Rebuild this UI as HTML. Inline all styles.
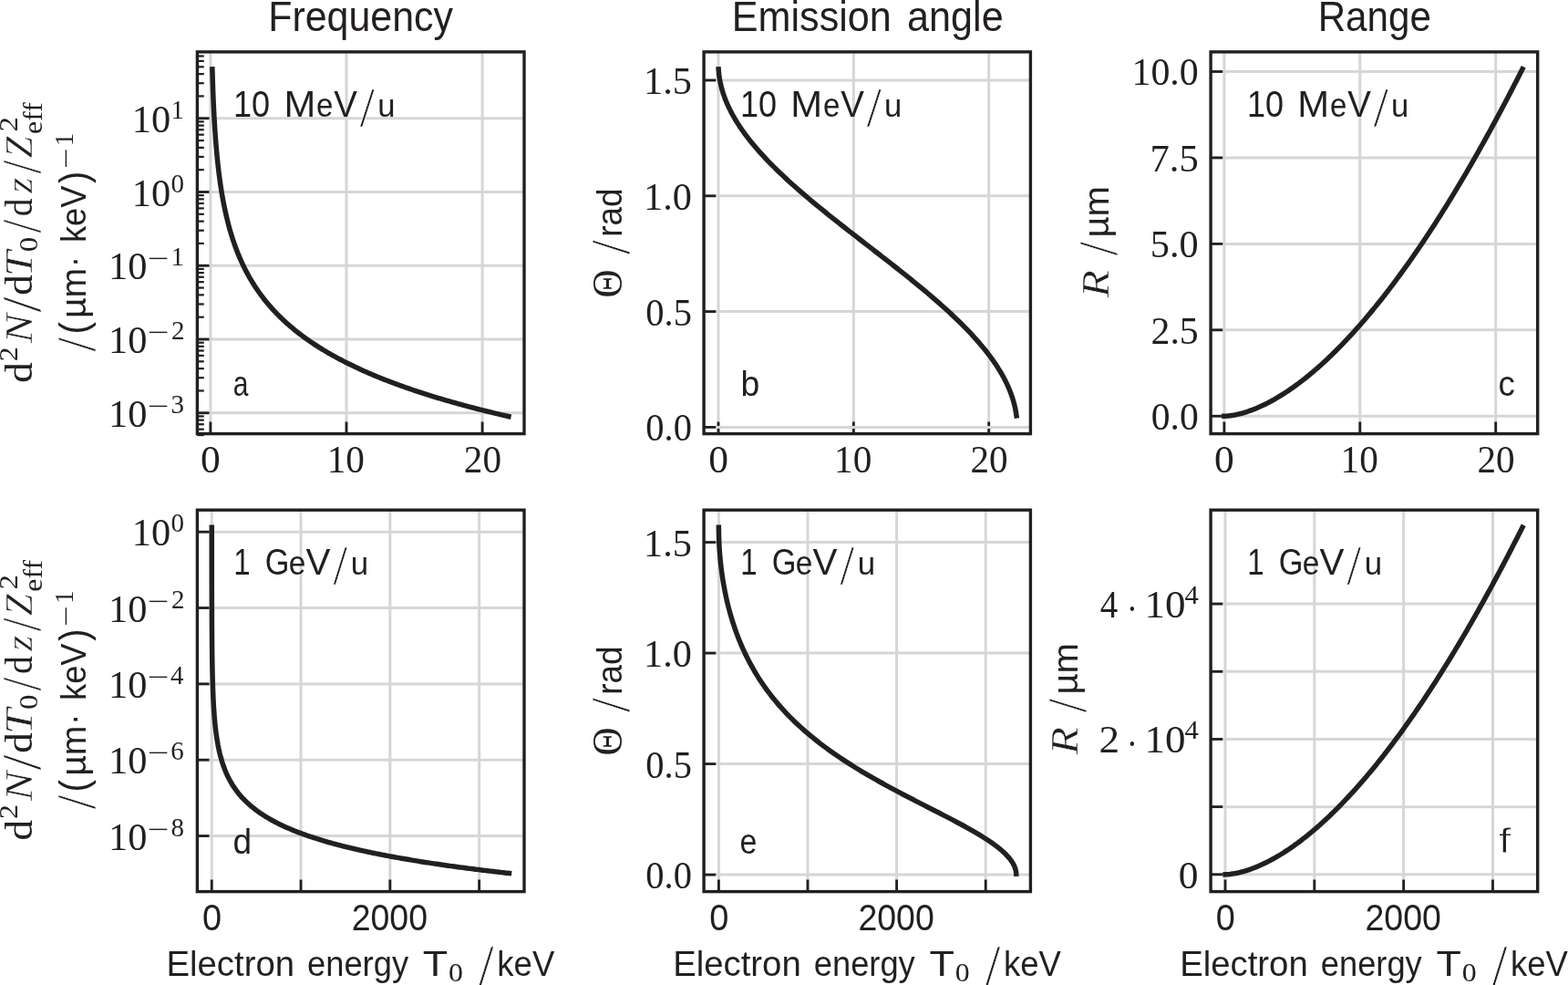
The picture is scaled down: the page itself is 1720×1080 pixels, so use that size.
<!DOCTYPE html>
<html lang="en">
<head>
<meta charset="utf-8">
<title>Delta electron frequency, emission angle and range</title>
<style>
html,body{margin:0;padding:0;background:#fff;}
body{width:1720px;height:1080px;overflow:hidden;}
svg{display:block;}
text.s{font-family:"Liberation Sans",sans-serif;}
text.r{font-family:"Liberation Serif",serif;}
</style>
</head>
<body>
<svg width="1720" height="1080" viewBox="0 0 1720 1080">
<rect width="1720" height="1080" fill="#ffffff"/>
<g stroke-linecap="butt">
<line x1="230.9" y1="56.9" x2="230.9" y2="475.6" stroke="#d5d6d8" stroke-width="3"/>
<line x1="380" y1="56.9" x2="380" y2="475.6" stroke="#d5d6d8" stroke-width="3"/>
<line x1="529.1" y1="56.9" x2="529.1" y2="475.6" stroke="#d5d6d8" stroke-width="3"/>
<line x1="230.9" y1="475.6" x2="230.9" y2="462.5" stroke="#231f20" stroke-width="2.8"/>
<line x1="380" y1="475.6" x2="380" y2="462.5" stroke="#231f20" stroke-width="2.8"/>
<line x1="529.1" y1="475.6" x2="529.1" y2="462.5" stroke="#231f20" stroke-width="2.8"/>
<line x1="216.4" y1="129.75" x2="575" y2="129.75" stroke="#d5d6d8" stroke-width="3"/>
<line x1="216.4" y1="210.5" x2="575" y2="210.5" stroke="#d5d6d8" stroke-width="3"/>
<line x1="216.4" y1="291.25" x2="575" y2="291.25" stroke="#d5d6d8" stroke-width="3"/>
<line x1="216.4" y1="372" x2="575" y2="372" stroke="#d5d6d8" stroke-width="3"/>
<line x1="216.4" y1="452.75" x2="575" y2="452.75" stroke="#d5d6d8" stroke-width="3"/>
<line x1="216.4" y1="129.75" x2="229.5" y2="129.75" stroke="#231f20" stroke-width="2.8"/>
<line x1="216.4" y1="210.5" x2="229.5" y2="210.5" stroke="#231f20" stroke-width="2.8"/>
<line x1="216.4" y1="291.25" x2="229.5" y2="291.25" stroke="#231f20" stroke-width="2.8"/>
<line x1="216.4" y1="372" x2="229.5" y2="372" stroke="#231f20" stroke-width="2.8"/>
<line x1="216.4" y1="452.75" x2="229.5" y2="452.75" stroke="#231f20" stroke-width="2.8"/>
<line x1="216.4" y1="477.06" x2="223.8" y2="477.06" stroke="#231f20" stroke-width="2.24"/>
<line x1="216.4" y1="470.66" x2="223.8" y2="470.66" stroke="#231f20" stroke-width="2.24"/>
<line x1="216.4" y1="465.26" x2="223.8" y2="465.26" stroke="#231f20" stroke-width="2.24"/>
<line x1="216.4" y1="460.58" x2="223.8" y2="460.58" stroke="#231f20" stroke-width="2.24"/>
<line x1="216.4" y1="456.44" x2="223.8" y2="456.44" stroke="#231f20" stroke-width="2.24"/>
<line x1="216.4" y1="428.44" x2="223.8" y2="428.44" stroke="#231f20" stroke-width="2.24"/>
<line x1="216.4" y1="414.22" x2="223.8" y2="414.22" stroke="#231f20" stroke-width="2.24"/>
<line x1="216.4" y1="404.13" x2="223.8" y2="404.13" stroke="#231f20" stroke-width="2.24"/>
<line x1="216.4" y1="396.31" x2="223.8" y2="396.31" stroke="#231f20" stroke-width="2.24"/>
<line x1="216.4" y1="389.91" x2="223.8" y2="389.91" stroke="#231f20" stroke-width="2.24"/>
<line x1="216.4" y1="384.51" x2="223.8" y2="384.51" stroke="#231f20" stroke-width="2.24"/>
<line x1="216.4" y1="379.83" x2="223.8" y2="379.83" stroke="#231f20" stroke-width="2.24"/>
<line x1="216.4" y1="375.69" x2="223.8" y2="375.69" stroke="#231f20" stroke-width="2.24"/>
<line x1="216.4" y1="347.69" x2="223.8" y2="347.69" stroke="#231f20" stroke-width="2.24"/>
<line x1="216.4" y1="333.47" x2="223.8" y2="333.47" stroke="#231f20" stroke-width="2.24"/>
<line x1="216.4" y1="323.38" x2="223.8" y2="323.38" stroke="#231f20" stroke-width="2.24"/>
<line x1="216.4" y1="315.56" x2="223.8" y2="315.56" stroke="#231f20" stroke-width="2.24"/>
<line x1="216.4" y1="309.16" x2="223.8" y2="309.16" stroke="#231f20" stroke-width="2.24"/>
<line x1="216.4" y1="303.76" x2="223.8" y2="303.76" stroke="#231f20" stroke-width="2.24"/>
<line x1="216.4" y1="299.08" x2="223.8" y2="299.08" stroke="#231f20" stroke-width="2.24"/>
<line x1="216.4" y1="294.94" x2="223.8" y2="294.94" stroke="#231f20" stroke-width="2.24"/>
<line x1="216.4" y1="266.94" x2="223.8" y2="266.94" stroke="#231f20" stroke-width="2.24"/>
<line x1="216.4" y1="252.72" x2="223.8" y2="252.72" stroke="#231f20" stroke-width="2.24"/>
<line x1="216.4" y1="242.63" x2="223.8" y2="242.63" stroke="#231f20" stroke-width="2.24"/>
<line x1="216.4" y1="234.81" x2="223.8" y2="234.81" stroke="#231f20" stroke-width="2.24"/>
<line x1="216.4" y1="228.41" x2="223.8" y2="228.41" stroke="#231f20" stroke-width="2.24"/>
<line x1="216.4" y1="223.01" x2="223.8" y2="223.01" stroke="#231f20" stroke-width="2.24"/>
<line x1="216.4" y1="218.33" x2="223.8" y2="218.33" stroke="#231f20" stroke-width="2.24"/>
<line x1="216.4" y1="214.19" x2="223.8" y2="214.19" stroke="#231f20" stroke-width="2.24"/>
<line x1="216.4" y1="186.19" x2="223.8" y2="186.19" stroke="#231f20" stroke-width="2.24"/>
<line x1="216.4" y1="171.97" x2="223.8" y2="171.97" stroke="#231f20" stroke-width="2.24"/>
<line x1="216.4" y1="161.88" x2="223.8" y2="161.88" stroke="#231f20" stroke-width="2.24"/>
<line x1="216.4" y1="154.06" x2="223.8" y2="154.06" stroke="#231f20" stroke-width="2.24"/>
<line x1="216.4" y1="147.66" x2="223.8" y2="147.66" stroke="#231f20" stroke-width="2.24"/>
<line x1="216.4" y1="142.26" x2="223.8" y2="142.26" stroke="#231f20" stroke-width="2.24"/>
<line x1="216.4" y1="137.58" x2="223.8" y2="137.58" stroke="#231f20" stroke-width="2.24"/>
<line x1="216.4" y1="133.44" x2="223.8" y2="133.44" stroke="#231f20" stroke-width="2.24"/>
<line x1="216.4" y1="105.44" x2="223.8" y2="105.44" stroke="#231f20" stroke-width="2.24"/>
<line x1="216.4" y1="91.22" x2="223.8" y2="91.22" stroke="#231f20" stroke-width="2.24"/>
<line x1="216.4" y1="81.13" x2="223.8" y2="81.13" stroke="#231f20" stroke-width="2.24"/>
<line x1="216.4" y1="73.31" x2="223.8" y2="73.31" stroke="#231f20" stroke-width="2.24"/>
<line x1="216.4" y1="66.91" x2="223.8" y2="66.91" stroke="#231f20" stroke-width="2.24"/>
<line x1="216.4" y1="61.51" x2="223.8" y2="61.51" stroke="#231f20" stroke-width="2.24"/>
<path d="M232.89 75.87 L233.00 79.70 L233.11 83.53 L233.23 87.35 L233.35 91.18 L233.48 95.01 L233.62 98.84 L233.76 102.67 L233.91 106.50 L234.07 110.33 L234.24 114.16 L234.42 117.99 L234.60 121.82 L234.80 125.65 L235.01 129.48 L235.22 133.32 L235.45 137.15 L235.69 140.99 L235.95 144.82 L236.22 148.66 L236.50 152.49 L236.79 156.33 L237.10 160.16 L237.43 164.00 L237.78 167.84 L238.14 171.68 L238.53 175.52 L238.93 179.36 L239.35 183.20 L239.80 187.04 L240.27 190.88 L240.77 194.72 L241.29 198.56 L241.84 202.40 L242.42 206.25 L243.03 210.09 L243.67 213.93 L244.35 217.78 L245.06 221.62 L245.81 225.47 L247.38 232.93 L248.95 239.71 L250.51 245.92 L252.08 251.66 L253.65 256.99 L255.22 261.97 L256.79 266.64 L258.36 271.03 L259.92 275.18 L261.49 279.11 L263.06 282.84 L264.63 286.40 L266.20 289.80 L267.76 293.04 L269.33 296.16 L270.90 299.15 L272.47 302.02 L274.04 304.79 L275.61 307.46 L277.17 310.04 L278.74 312.53 L280.31 314.94 L281.88 317.28 L283.45 319.55 L285.01 321.75 L286.58 323.89 L288.15 325.96 L289.72 327.99 L291.29 329.95 L292.86 331.87 L294.42 333.74 L295.99 335.57 L297.56 337.35 L299.13 339.09 L300.70 340.79 L302.26 342.46 L303.83 344.08 L305.40 345.68 L306.97 347.24 L308.54 348.76 L310.11 350.26 L311.67 351.73 L313.24 353.17 L314.81 354.58 L316.38 355.97 L317.95 357.33 L319.51 358.67 L321.08 359.98 L322.65 361.27 L324.22 362.54 L325.79 363.79 L327.35 365.02 L328.92 366.23 L330.49 367.42 L332.06 368.59 L333.63 369.74 L335.20 370.88 L336.76 372.00 L338.33 373.10 L339.90 374.18 L341.47 375.25 L343.04 376.31 L344.60 377.35 L346.17 378.38 L347.74 379.39 L349.31 380.39 L350.88 381.38 L352.45 382.35 L354.01 383.31 L355.58 384.26 L357.15 385.20 L358.72 386.12 L360.29 387.04 L361.85 387.94 L363.42 388.83 L364.99 389.71 L366.56 390.59 L368.13 391.45 L369.70 392.30 L371.26 393.14 L372.83 393.98 L374.40 394.80 L375.97 395.62 L377.54 396.42 L379.10 397.22 L380.67 398.01 L382.24 398.79 L383.81 399.56 L385.38 400.33 L386.95 401.09 L388.51 401.84 L390.08 402.58 L391.65 403.31 L393.22 404.04 L394.79 404.76 L396.35 405.48 L397.92 406.19 L399.49 406.89 L401.06 407.58 L402.63 408.27 L404.20 408.95 L405.76 409.63 L407.33 410.30 L408.90 410.96 L410.47 411.62 L412.04 412.27 L413.60 412.92 L415.17 413.56 L416.74 414.20 L418.31 414.83 L419.88 415.45 L421.45 416.07 L423.01 416.69 L424.58 417.30 L426.15 417.91 L427.72 418.51 L429.29 419.10 L430.85 419.69 L432.42 420.28 L433.99 420.86 L435.56 421.44 L437.13 422.01 L438.70 422.58 L440.26 423.14 L441.83 423.70 L443.40 424.26 L444.97 424.81 L446.54 425.36 L448.10 425.90 L449.67 426.44 L451.24 426.98 L452.81 427.51 L454.38 428.04 L455.95 428.57 L457.51 429.09 L459.08 429.61 L460.65 430.12 L462.22 430.63 L463.79 431.14 L465.35 431.64 L466.92 432.14 L468.49 432.64 L470.06 433.13 L471.63 433.63 L473.19 434.11 L474.76 434.60 L476.33 435.08 L477.90 435.56 L479.47 436.03 L481.04 436.51 L482.60 436.97 L484.17 437.44 L485.74 437.90 L487.31 438.37 L488.88 438.82 L490.44 439.28 L492.01 439.73 L493.58 440.18 L495.15 440.63 L496.72 441.07 L498.29 441.51 L499.85 441.95 L501.42 442.39 L502.99 442.82 L504.56 443.26 L506.13 443.69 L507.69 444.11 L509.26 444.54 L510.83 444.96 L512.40 445.38 L513.97 445.80 L515.54 446.21 L517.10 446.62 L518.67 447.03 L520.24 447.44 L521.81 447.85 L523.38 448.25 L524.94 448.65 L526.51 449.05 L528.08 449.45 L529.65 449.85 L531.22 450.24 L532.79 450.63 L534.35 451.02 L535.92 451.41 L537.49 451.79 L539.06 452.18 L540.63 452.56 L542.19 452.94 L543.76 453.32 L545.33 453.69 L546.90 454.07 L548.47 454.44 L550.04 454.81 L551.60 455.18 L553.17 455.54 L554.74 455.91 L556.31 456.27 L557.88 456.63" fill="none" stroke="#231f20" stroke-width="5.5" stroke-linejoin="round" stroke-linecap="square"/>
<rect x="216.4" y="56.9" width="358.6" height="418.7" fill="none" stroke="#231f20" stroke-width="3.4"/>
<line x1="788" y1="56.9" x2="788" y2="475.6" stroke="#d5d6d8" stroke-width="3"/>
<line x1="936.35" y1="56.9" x2="936.35" y2="475.6" stroke="#d5d6d8" stroke-width="3"/>
<line x1="1084.7" y1="56.9" x2="1084.7" y2="475.6" stroke="#d5d6d8" stroke-width="3"/>
<line x1="788" y1="475.6" x2="788" y2="462.5" stroke="#231f20" stroke-width="2.8"/>
<line x1="936.35" y1="475.6" x2="936.35" y2="462.5" stroke="#231f20" stroke-width="2.8"/>
<line x1="1084.7" y1="475.6" x2="1084.7" y2="462.5" stroke="#231f20" stroke-width="2.8"/>
<line x1="772.1" y1="468.4" x2="1130.4" y2="468.4" stroke="#d5d6d8" stroke-width="3"/>
<line x1="772.1" y1="341.6" x2="1130.4" y2="341.6" stroke="#d5d6d8" stroke-width="3"/>
<line x1="772.1" y1="214.8" x2="1130.4" y2="214.8" stroke="#d5d6d8" stroke-width="3"/>
<line x1="772.1" y1="88" x2="1130.4" y2="88" stroke="#d5d6d8" stroke-width="3"/>
<line x1="772.1" y1="468.4" x2="785.2" y2="468.4" stroke="#231f20" stroke-width="2.8"/>
<line x1="772.1" y1="341.6" x2="785.2" y2="341.6" stroke="#231f20" stroke-width="2.8"/>
<line x1="772.1" y1="214.8" x2="785.2" y2="214.8" stroke="#231f20" stroke-width="2.8"/>
<line x1="772.1" y1="88" x2="785.2" y2="88" stroke="#231f20" stroke-width="2.8"/>
<path d="M788.17 75.85 L788.26 77.12 L788.36 78.40 L788.47 79.67 L788.60 80.94 L788.75 82.21 L788.92 83.48 L789.10 84.75 L789.30 86.02 L789.51 87.30 L789.75 88.57 L789.99 89.84 L790.26 91.11 L790.54 92.38 L790.83 93.65 L791.14 94.92 L791.47 96.19 L791.82 97.47 L792.18 98.74 L792.55 100.01 L792.95 101.28 L793.36 102.55 L793.78 103.82 L794.22 105.09 L794.68 106.37 L795.15 107.64 L795.64 108.91 L796.14 110.18 L796.66 111.45 L797.20 112.72 L797.75 113.99 L798.31 115.27 L798.89 116.54 L799.49 117.81 L800.10 119.08 L800.73 120.35 L801.37 121.62 L802.03 122.89 L802.70 124.17 L803.39 125.44 L804.09 126.71 L804.81 127.98 L805.54 129.25 L806.29 130.52 L807.05 131.79 L807.83 133.07 L808.62 134.34 L809.42 135.61 L810.24 136.88 L811.08 138.15 L811.93 139.42 L812.79 140.69 L813.66 141.96 L814.55 143.24 L815.46 144.51 L816.37 145.78 L817.31 147.05 L818.25 148.32 L819.21 149.59 L820.18 150.86 L821.16 152.14 L822.16 153.41 L823.17 154.68 L824.20 155.95 L825.23 157.22 L826.28 158.49 L827.34 159.76 L828.42 161.04 L829.51 162.31 L830.60 163.58 L831.72 164.85 L832.84 166.12 L833.97 167.39 L835.12 168.66 L836.28 169.94 L837.45 171.21 L838.63 172.48 L839.83 173.75 L841.03 175.02 L842.25 176.29 L843.47 177.56 L844.71 178.84 L845.96 180.11 L847.22 181.38 L848.49 182.65 L849.77 183.92 L851.06 185.19 L852.36 186.46 L853.67 187.74 L854.99 189.01 L856.32 190.28 L857.66 191.55 L859.01 192.82 L860.37 194.09 L861.74 195.36 L863.11 196.63 L864.50 197.91 L865.90 199.18 L867.30 200.45 L868.71 201.72 L870.13 202.99 L871.56 204.26 L873.00 205.53 L874.44 206.81 L875.89 208.08 L877.35 209.35 L878.82 210.62 L880.29 211.89 L881.78 213.16 L883.26 214.43 L884.76 215.71 L886.26 216.98 L887.77 218.25 L889.29 219.52 L890.81 220.79 L892.34 222.06 L893.87 223.33 L895.41 224.61 L896.96 225.88 L898.51 227.15 L900.06 228.42 L901.63 229.69 L903.19 230.96 L904.76 232.23 L906.34 233.51 L907.92 234.78 L909.51 236.05 L911.10 237.32 L912.69 238.59 L914.29 239.86 L915.89 241.13 L917.49 242.40 L919.10 243.68 L920.71 244.95 L922.33 246.22 L923.95 247.49 L925.57 248.76 L927.19 250.03 L928.82 251.30 L930.44 252.58 L932.07 253.85 L933.71 255.12 L935.34 256.39 L936.98 257.66 L938.61 258.93 L940.25 260.20 L941.89 261.48 L943.53 262.75 L945.17 264.02 L946.82 265.29 L948.46 266.56 L950.10 267.83 L951.75 269.10 L953.39 270.38 L955.03 271.65 L956.68 272.92 L958.32 274.19 L959.96 275.46 L961.60 276.73 L963.24 278.00 L964.88 279.28 L966.52 280.55 L968.15 281.82 L969.79 283.09 L971.42 284.36 L973.05 285.63 L974.68 286.90 L976.31 288.18 L977.93 289.45 L979.55 290.72 L981.17 291.99 L982.79 293.26 L984.40 294.53 L986.01 295.80 L987.61 297.07 L989.21 298.35 L990.81 299.62 L992.41 300.89 L994.00 302.16 L995.58 303.43 L997.17 304.70 L998.74 305.97 L1000.31 307.25 L1001.88 308.52 L1003.44 309.79 L1005.00 311.06 L1006.55 312.33 L1008.10 313.60 L1009.64 314.87 L1011.18 316.15 L1012.71 317.42 L1014.23 318.69 L1015.75 319.96 L1017.26 321.23 L1018.76 322.50 L1020.26 323.77 L1021.75 325.05 L1023.23 326.32 L1024.71 327.59 L1026.17 328.86 L1027.64 330.13 L1029.09 331.40 L1030.54 332.67 L1031.97 333.95 L1033.40 335.22 L1034.82 336.49 L1036.24 337.76 L1037.64 339.03 L1039.04 340.30 L1040.43 341.57 L1041.81 342.85 L1043.17 344.12 L1044.54 345.39 L1045.89 346.66 L1047.23 347.93 L1048.56 349.20 L1049.88 350.47 L1051.19 351.74 L1052.50 353.02 L1053.79 354.29 L1055.07 355.56 L1056.34 356.83 L1057.60 358.10 L1058.86 359.37 L1060.10 360.64 L1061.32 361.92 L1062.54 363.19 L1063.75 364.46 L1064.94 365.73 L1066.13 367.00 L1067.30 368.27 L1068.46 369.54 L1069.61 370.82 L1070.75 372.09 L1071.88 373.36 L1072.99 374.63 L1074.09 375.90 L1075.18 377.17 L1076.26 378.44 L1077.32 379.72 L1078.37 380.99 L1079.41 382.26 L1080.44 383.53 L1081.45 384.80 L1082.45 386.07 L1083.44 387.34 L1084.41 388.62 L1085.37 389.89 L1086.32 391.16 L1087.25 392.43 L1088.17 393.70 L1089.08 394.97 L1089.97 396.24 L1090.85 397.51 L1091.71 398.79 L1092.56 400.06 L1093.40 401.33 L1094.22 402.60 L1095.03 403.87 L1095.82 405.14 L1096.60 406.41 L1097.37 407.69 L1098.12 408.96 L1098.85 410.23 L1099.57 411.50 L1100.28 412.77 L1100.97 414.04 L1101.64 415.31 L1102.31 416.59 L1102.95 417.86 L1103.58 419.13 L1104.20 420.40 L1104.80 421.67 L1105.38 422.94 L1105.95 424.21 L1106.50 425.49 L1107.04 426.76 L1107.56 428.03 L1108.07 429.30 L1108.56 430.57 L1109.04 431.84 L1109.49 433.11 L1109.94 434.39 L1110.37 435.66 L1110.78 436.93 L1111.17 438.20 L1111.55 439.47 L1111.92 440.74 L1112.26 442.01 L1112.60 443.29 L1112.91 444.56 L1113.21 445.83 L1113.49 447.10 L1113.76 448.37 L1114.01 449.64 L1114.24 450.91 L1114.46 452.18 L1114.66 453.46 L1114.85 454.73 L1115.02 456.00" fill="none" stroke="#231f20" stroke-width="5.5" stroke-linejoin="round" stroke-linecap="square"/>
<rect x="772.1" y="56.9" width="358.3" height="418.7" fill="none" stroke="#231f20" stroke-width="3.4"/>
<line x1="1342.9" y1="56.9" x2="1342.9" y2="475.6" stroke="#d5d6d8" stroke-width="3"/>
<line x1="1491.8" y1="56.9" x2="1491.8" y2="475.6" stroke="#d5d6d8" stroke-width="3"/>
<line x1="1640.7" y1="56.9" x2="1640.7" y2="475.6" stroke="#d5d6d8" stroke-width="3"/>
<line x1="1342.9" y1="475.6" x2="1342.9" y2="462.5" stroke="#231f20" stroke-width="2.8"/>
<line x1="1491.8" y1="475.6" x2="1491.8" y2="462.5" stroke="#231f20" stroke-width="2.8"/>
<line x1="1640.7" y1="475.6" x2="1640.7" y2="462.5" stroke="#231f20" stroke-width="2.8"/>
<line x1="1328.1" y1="456.25" x2="1686.7" y2="456.25" stroke="#d5d6d8" stroke-width="3"/>
<line x1="1328.1" y1="361.81" x2="1686.7" y2="361.81" stroke="#d5d6d8" stroke-width="3"/>
<line x1="1328.1" y1="267.38" x2="1686.7" y2="267.38" stroke="#d5d6d8" stroke-width="3"/>
<line x1="1328.1" y1="172.94" x2="1686.7" y2="172.94" stroke="#d5d6d8" stroke-width="3"/>
<line x1="1328.1" y1="78.5" x2="1686.7" y2="78.5" stroke="#d5d6d8" stroke-width="3"/>
<line x1="1328.1" y1="456.25" x2="1341.2" y2="456.25" stroke="#231f20" stroke-width="2.8"/>
<line x1="1328.1" y1="361.81" x2="1341.2" y2="361.81" stroke="#231f20" stroke-width="2.8"/>
<line x1="1328.1" y1="267.38" x2="1341.2" y2="267.38" stroke="#231f20" stroke-width="2.8"/>
<line x1="1328.1" y1="172.94" x2="1341.2" y2="172.94" stroke="#231f20" stroke-width="2.8"/>
<line x1="1328.1" y1="78.5" x2="1341.2" y2="78.5" stroke="#231f20" stroke-width="2.8"/>
<path d="M1342.90 456.25 L1344.54 456.20 L1346.19 456.10 L1347.83 455.95 L1349.47 455.75 L1351.12 455.52 L1352.76 455.26 L1354.41 454.96 L1356.05 454.64 L1357.69 454.28 L1359.34 453.89 L1360.98 453.48 L1362.62 453.04 L1364.27 452.57 L1365.91 452.07 L1367.55 451.55 L1369.20 451.01 L1370.84 450.44 L1372.49 449.85 L1374.13 449.23 L1375.77 448.59 L1377.42 447.93 L1379.06 447.25 L1380.70 446.54 L1382.35 445.81 L1383.99 445.06 L1385.63 444.29 L1387.28 443.50 L1388.92 442.68 L1390.56 441.85 L1392.21 440.99 L1393.85 440.12 L1395.50 439.23 L1397.14 438.31 L1398.78 437.38 L1400.43 436.42 L1402.07 435.45 L1403.71 434.46 L1405.36 433.45 L1407.00 432.42 L1408.64 431.37 L1410.29 430.31 L1411.93 429.22 L1413.58 428.12 L1415.22 427.00 L1416.86 425.86 L1418.51 424.70 L1420.15 423.52 L1421.79 422.33 L1423.44 421.12 L1425.08 419.89 L1426.72 418.65 L1428.37 417.39 L1430.01 416.11 L1431.66 414.81 L1433.30 413.50 L1434.94 412.17 L1436.59 410.82 L1438.23 409.46 L1439.87 408.08 L1441.52 406.69 L1443.16 405.27 L1444.80 403.84 L1446.45 402.40 L1448.09 400.94 L1449.74 399.46 L1451.38 397.97 L1453.02 396.46 L1454.67 394.93 L1456.31 393.39 L1457.95 391.84 L1459.60 390.26 L1461.24 388.68 L1462.88 387.07 L1464.53 385.45 L1466.17 383.82 L1467.81 382.17 L1469.46 380.51 L1471.10 378.83 L1472.75 377.13 L1474.39 375.42 L1476.03 373.70 L1477.68 371.96 L1479.32 370.20 L1480.96 368.43 L1482.61 366.65 L1484.25 364.85 L1485.89 363.03 L1487.54 361.20 L1489.18 359.36 L1490.83 357.50 L1492.47 355.63 L1494.11 353.74 L1495.76 351.84 L1497.40 349.93 L1499.04 348.00 L1500.69 346.05 L1502.33 344.09 L1503.97 342.12 L1505.62 340.13 L1507.26 338.13 L1508.91 336.12 L1510.55 334.09 L1512.19 332.04 L1513.84 329.99 L1515.48 327.92 L1517.12 325.83 L1518.77 323.73 L1520.41 321.62 L1522.05 319.50 L1523.70 317.36 L1525.34 315.20 L1526.99 313.04 L1528.63 310.86 L1530.27 308.66 L1531.92 306.45 L1533.56 304.23 L1535.20 302.00 L1536.85 299.75 L1538.49 297.49 L1540.13 295.21 L1541.78 292.93 L1543.42 290.62 L1545.07 288.31 L1546.71 285.98 L1548.35 283.64 L1550.00 281.29 L1551.64 278.92 L1553.28 276.54 L1554.93 274.15 L1556.57 271.74 L1558.21 269.32 L1559.86 266.89 L1561.50 264.44 L1563.14 261.99 L1564.79 259.51 L1566.43 257.03 L1568.08 254.53 L1569.72 252.02 L1571.36 249.50 L1573.01 246.97 L1574.65 244.42 L1576.29 241.86 L1577.94 239.29 L1579.58 236.70 L1581.22 234.10 L1582.87 231.49 L1584.51 228.87 L1586.16 226.23 L1587.80 223.58 L1589.44 220.92 L1591.09 218.25 L1592.73 215.56 L1594.37 212.87 L1596.02 210.16 L1597.66 207.43 L1599.30 204.70 L1600.95 201.95 L1602.59 199.19 L1604.24 196.42 L1605.88 193.63 L1607.52 190.84 L1609.17 188.03 L1610.81 185.21 L1612.45 182.38 L1614.10 179.53 L1615.74 176.67 L1617.38 173.81 L1619.03 170.92 L1620.67 168.03 L1622.32 165.13 L1623.96 162.21 L1625.60 159.28 L1627.25 156.34 L1628.89 153.38 L1630.53 150.42 L1632.18 147.44 L1633.82 144.45 L1635.46 141.45 L1637.11 138.44 L1638.75 135.42 L1640.39 132.38 L1642.04 129.33 L1643.68 126.27 L1645.33 123.20 L1646.97 120.12 L1648.61 117.03 L1650.26 113.92 L1651.90 110.80 L1653.54 107.67 L1655.19 104.53 L1656.83 101.38 L1658.47 98.21 L1660.12 95.04 L1661.76 91.85 L1663.41 88.65 L1665.05 85.44 L1666.69 82.22 L1668.34 78.98 L1669.98 75.74" fill="none" stroke="#231f20" stroke-width="5.5" stroke-linejoin="round" stroke-linecap="square"/>
<rect x="1328.1" y="56.9" width="358.6" height="418.7" fill="none" stroke="#231f20" stroke-width="3.4"/>
<line x1="232.25" y1="559.2" x2="232.25" y2="977.6" stroke="#d5d6d8" stroke-width="3"/>
<line x1="330.05" y1="559.2" x2="330.05" y2="977.6" stroke="#d5d6d8" stroke-width="3"/>
<line x1="427.85" y1="559.2" x2="427.85" y2="977.6" stroke="#d5d6d8" stroke-width="3"/>
<line x1="525.65" y1="559.2" x2="525.65" y2="977.6" stroke="#d5d6d8" stroke-width="3"/>
<line x1="232.25" y1="977.6" x2="232.25" y2="964.5" stroke="#231f20" stroke-width="2.8"/>
<line x1="330.05" y1="977.6" x2="330.05" y2="964.5" stroke="#231f20" stroke-width="2.8"/>
<line x1="427.85" y1="977.6" x2="427.85" y2="964.5" stroke="#231f20" stroke-width="2.8"/>
<line x1="525.65" y1="977.6" x2="525.65" y2="964.5" stroke="#231f20" stroke-width="2.8"/>
<line x1="216.4" y1="583.2" x2="575" y2="583.2" stroke="#d5d6d8" stroke-width="3"/>
<line x1="216.4" y1="666.54" x2="575" y2="666.54" stroke="#d5d6d8" stroke-width="3"/>
<line x1="216.4" y1="749.88" x2="575" y2="749.88" stroke="#d5d6d8" stroke-width="3"/>
<line x1="216.4" y1="833.22" x2="575" y2="833.22" stroke="#d5d6d8" stroke-width="3"/>
<line x1="216.4" y1="916.56" x2="575" y2="916.56" stroke="#d5d6d8" stroke-width="3"/>
<line x1="216.4" y1="583.2" x2="229.5" y2="583.2" stroke="#231f20" stroke-width="2.8"/>
<line x1="216.4" y1="666.54" x2="229.5" y2="666.54" stroke="#231f20" stroke-width="2.8"/>
<line x1="216.4" y1="749.88" x2="229.5" y2="749.88" stroke="#231f20" stroke-width="2.8"/>
<line x1="216.4" y1="833.22" x2="229.5" y2="833.22" stroke="#231f20" stroke-width="2.8"/>
<line x1="216.4" y1="916.56" x2="229.5" y2="916.56" stroke="#231f20" stroke-width="2.8"/>
<path d="M232.26 578.35 L232.26 582.62 L232.26 586.88 L232.26 591.14 L232.27 595.40 L232.27 599.66 L232.27 603.93 L232.27 608.19 L232.27 612.45 L232.28 616.71 L232.28 620.98 L232.29 625.24 L232.29 629.50 L232.29 633.76 L232.30 638.02 L232.31 642.29 L232.31 646.55 L232.32 650.81 L232.33 655.07 L232.34 659.34 L232.35 663.60 L232.36 667.86 L232.38 672.12 L232.39 676.38 L232.41 680.65 L232.43 684.91 L232.46 689.17 L232.48 693.43 L232.51 697.70 L232.54 701.96 L232.58 706.22 L232.62 710.48 L232.66 714.74 L232.72 719.01 L232.77 723.27 L232.84 727.53 L232.91 731.79 L232.99 736.06 L233.09 740.32 L233.19 744.58 L233.31 748.84 L233.44 753.10 L233.59 757.37 L233.75 761.63 L233.94 765.89 L234.15 770.15 L234.38 774.42 L234.65 778.68 L234.95 782.94 L235.28 787.20 L235.66 791.46 L236.08 795.73 L236.56 799.99 L237.09 804.25 L237.70 808.51 L238.37 812.78 L239.13 817.04 L239.99 821.30 L240.95 825.56 L242.03 829.82 L243.62 835.31 L245.21 840.07 L246.80 844.29 L248.39 848.06 L249.98 851.48 L251.57 854.61 L253.16 857.49 L254.75 860.16 L256.34 862.65 L257.93 864.97 L259.52 867.16 L261.11 869.22 L262.70 871.18 L264.29 873.03 L265.89 874.79 L267.48 876.47 L269.07 878.08 L270.66 879.62 L272.25 881.10 L273.84 882.52 L275.43 883.88 L277.02 885.20 L278.61 886.47 L280.20 887.70 L281.79 888.89 L283.38 890.04 L284.97 891.15 L286.56 892.23 L288.15 893.28 L289.74 894.31 L291.33 895.30 L292.92 896.27 L294.51 897.21 L296.10 898.13 L297.69 899.02 L299.28 899.90 L300.87 900.75 L302.46 901.58 L304.05 902.40 L305.64 903.20 L307.23 903.98 L308.82 904.74 L310.42 905.49 L312.01 906.22 L313.60 906.94 L315.19 907.65 L316.78 908.34 L318.37 909.02 L319.96 909.68 L321.55 910.34 L323.14 910.98 L324.73 911.61 L326.32 912.23 L327.91 912.84 L329.50 913.44 L331.09 914.03 L332.68 914.61 L334.27 915.19 L335.86 915.75 L337.45 916.30 L339.04 916.85 L340.63 917.39 L342.22 917.92 L343.81 918.44 L345.40 918.96 L346.99 919.46 L348.58 919.96 L350.17 920.46 L351.76 920.95 L353.35 921.43 L354.95 921.90 L356.54 922.37 L358.13 922.83 L359.72 923.29 L361.31 923.74 L362.90 924.19 L364.49 924.63 L366.08 925.06 L367.67 925.49 L369.26 925.92 L370.85 926.34 L372.44 926.76 L374.03 927.17 L375.62 927.57 L377.21 927.97 L378.80 928.37 L380.39 928.76 L381.98 929.15 L383.57 929.54 L385.16 929.92 L386.75 930.29 L388.34 930.67 L389.93 931.04 L391.52 931.40 L393.11 931.76 L394.70 932.12 L396.29 932.48 L397.88 932.83 L399.48 933.18 L401.07 933.52 L402.66 933.86 L404.25 934.20 L405.84 934.53 L407.43 934.87 L409.02 935.20 L410.61 935.52 L412.20 935.84 L413.79 936.16 L415.38 936.48 L416.97 936.80 L418.56 937.11 L420.15 937.42 L421.74 937.73 L423.33 938.03 L424.92 938.33 L426.51 938.63 L428.10 938.93 L429.69 939.22 L431.28 939.51 L432.87 939.80 L434.46 940.09 L436.05 940.38 L437.64 940.66 L439.23 940.94 L440.82 941.22 L442.41 941.50 L444.01 941.77 L445.60 942.04 L447.19 942.31 L448.78 942.58 L450.37 942.85 L451.96 943.11 L453.55 943.37 L455.14 943.63 L456.73 943.89 L458.32 944.15 L459.91 944.41 L461.50 944.66 L463.09 944.91 L464.68 945.16 L466.27 945.41 L467.86 945.66 L469.45 945.90 L471.04 946.14 L472.63 946.39 L474.22 946.63 L475.81 946.86 L477.40 947.10 L478.99 947.34 L480.58 947.57 L482.17 947.80 L483.76 948.03 L485.35 948.26 L486.94 948.49 L488.54 948.72 L490.13 948.94 L491.72 949.17 L493.31 949.39 L494.90 949.61 L496.49 949.83 L498.08 950.05 L499.67 950.27 L501.26 950.48 L502.85 950.70 L504.44 950.91 L506.03 951.12 L507.62 951.33 L509.21 951.54 L510.80 951.75 L512.39 951.96 L513.98 952.16 L515.57 952.37 L517.16 952.57 L518.75 952.78 L520.34 952.98 L521.93 953.18 L523.52 953.38 L525.11 953.57 L526.70 953.77 L528.29 953.97 L529.88 954.16 L531.47 954.36 L533.07 954.55 L534.66 954.74 L536.25 954.93 L537.84 955.12 L539.43 955.31 L541.02 955.50 L542.61 955.69 L544.20 955.87 L545.79 956.06 L547.38 956.24 L548.97 956.43 L550.56 956.61 L552.15 956.79 L553.74 956.97 L555.33 957.15 L556.92 957.33 L558.51 957.51" fill="none" stroke="#231f20" stroke-width="5.5" stroke-linejoin="round" stroke-linecap="square"/>
<rect x="216.4" y="559.2" width="358.6" height="418.4" fill="none" stroke="#231f20" stroke-width="3.4"/>
<line x1="788.4" y1="559.2" x2="788.4" y2="977.6" stroke="#d5d6d8" stroke-width="3"/>
<line x1="886" y1="559.2" x2="886" y2="977.6" stroke="#d5d6d8" stroke-width="3"/>
<line x1="983.6" y1="559.2" x2="983.6" y2="977.6" stroke="#d5d6d8" stroke-width="3"/>
<line x1="1081.2" y1="559.2" x2="1081.2" y2="977.6" stroke="#d5d6d8" stroke-width="3"/>
<line x1="788.4" y1="977.6" x2="788.4" y2="964.5" stroke="#231f20" stroke-width="2.8"/>
<line x1="886" y1="977.6" x2="886" y2="964.5" stroke="#231f20" stroke-width="2.8"/>
<line x1="983.6" y1="977.6" x2="983.6" y2="964.5" stroke="#231f20" stroke-width="2.8"/>
<line x1="1081.2" y1="977.6" x2="1081.2" y2="964.5" stroke="#231f20" stroke-width="2.8"/>
<line x1="772.1" y1="959.1" x2="1130.4" y2="959.1" stroke="#d5d6d8" stroke-width="3"/>
<line x1="772.1" y1="837.6" x2="1130.4" y2="837.6" stroke="#d5d6d8" stroke-width="3"/>
<line x1="772.1" y1="716.1" x2="1130.4" y2="716.1" stroke="#d5d6d8" stroke-width="3"/>
<line x1="772.1" y1="594.6" x2="1130.4" y2="594.6" stroke="#d5d6d8" stroke-width="3"/>
<line x1="772.1" y1="959.1" x2="785.2" y2="959.1" stroke="#231f20" stroke-width="2.8"/>
<line x1="772.1" y1="837.6" x2="785.2" y2="837.6" stroke="#231f20" stroke-width="2.8"/>
<line x1="772.1" y1="716.1" x2="785.2" y2="716.1" stroke="#231f20" stroke-width="2.8"/>
<line x1="772.1" y1="594.6" x2="785.2" y2="594.6" stroke="#231f20" stroke-width="2.8"/>
<path d="M788.40 578.22 L788.41 579.49 L788.41 580.76 L788.43 582.03 L788.45 583.30 L788.47 584.57 L788.49 585.85 L788.52 587.12 L788.56 588.39 L788.59 589.66 L788.64 590.93 L788.68 592.20 L788.74 593.47 L788.79 594.74 L788.85 596.01 L788.91 597.28 L788.98 598.55 L789.05 599.82 L789.13 601.09 L789.21 602.36 L789.30 603.63 L789.39 604.90 L789.48 606.17 L789.58 607.45 L789.68 608.72 L789.79 609.99 L789.90 611.26 L790.01 612.53 L790.13 613.80 L790.26 615.07 L790.39 616.34 L790.52 617.61 L790.66 618.88 L790.80 620.15 L790.95 621.42 L791.10 622.69 L791.25 623.96 L791.41 625.23 L791.58 626.50 L791.75 627.77 L791.92 629.05 L792.10 630.32 L792.29 631.59 L792.47 632.86 L792.67 634.13 L792.87 635.40 L793.07 636.67 L793.28 637.94 L793.49 639.21 L793.71 640.48 L793.93 641.75 L794.16 643.02 L794.39 644.29 L794.63 645.56 L794.87 646.83 L795.12 648.10 L795.37 649.37 L795.63 650.65 L795.89 651.92 L796.16 653.19 L796.43 654.46 L796.71 655.73 L797.00 657.00 L797.29 658.27 L797.58 659.54 L797.89 660.81 L798.19 662.08 L798.50 663.35 L798.82 664.62 L799.15 665.89 L799.48 667.16 L799.81 668.43 L800.15 669.70 L800.50 670.97 L800.85 672.25 L801.21 673.52 L801.58 674.79 L801.95 676.06 L802.32 677.33 L802.71 678.60 L803.10 679.87 L803.49 681.14 L803.90 682.41 L804.31 683.68 L804.72 684.95 L805.14 686.22 L805.57 687.49 L806.01 688.76 L806.45 690.03 L806.90 691.30 L807.36 692.57 L807.82 693.85 L808.29 695.12 L808.77 696.39 L809.25 697.66 L809.74 698.93 L810.24 700.20 L810.75 701.47 L811.26 702.74 L811.79 704.01 L812.32 705.28 L812.85 706.55 L813.40 707.82 L813.95 709.09 L814.51 710.36 L815.08 711.63 L815.66 712.90 L816.25 714.17 L816.84 715.45 L817.44 716.72 L818.06 717.99 L818.68 719.26 L819.30 720.53 L819.94 721.80 L820.59 723.07 L821.25 724.34 L821.91 725.61 L822.59 726.88 L823.27 728.15 L823.96 729.42 L824.67 730.69 L825.38 731.96 L826.10 733.23 L826.83 734.50 L827.58 735.77 L828.33 737.05 L829.09 738.32 L829.86 739.59 L830.65 740.86 L831.44 742.13 L832.25 743.40 L833.06 744.67 L833.89 745.94 L834.73 747.21 L835.58 748.48 L836.44 749.75 L837.31 751.02 L838.20 752.29 L839.09 753.56 L840.00 754.83 L840.92 756.10 L841.85 757.37 L842.80 758.65 L843.76 759.92 L844.73 761.19 L845.71 762.46 L846.71 763.73 L847.71 765.00 L848.74 766.27 L849.77 767.54 L850.82 768.81 L851.88 770.08 L852.96 771.35 L854.05 772.62 L855.16 773.89 L856.27 775.16 L857.41 776.43 L858.56 777.70 L859.72 778.97 L860.90 780.25 L862.09 781.52 L863.30 782.79 L864.52 784.06 L865.76 785.33 L867.01 786.60 L868.28 787.87 L869.57 789.14 L870.87 790.41 L872.19 791.68 L873.53 792.95 L874.88 794.22 L876.25 795.49 L877.63 796.76 L879.04 798.03 L880.46 799.30 L881.89 800.57 L883.35 801.85 L884.82 803.12 L886.31 804.39 L887.82 805.66 L889.35 806.93 L890.89 808.20 L892.45 809.47 L894.04 810.74 L895.64 812.01 L897.25 813.28 L898.89 814.55 L900.55 815.82 L902.22 817.09 L903.92 818.36 L905.63 819.63 L907.36 820.90 L909.11 822.17 L910.89 823.45 L912.68 824.72 L914.49 825.99 L916.32 827.26 L918.17 828.53 L920.03 829.80 L921.92 831.07 L923.83 832.34 L925.76 833.61 L927.70 834.88 L929.67 836.15 L931.66 837.42 L933.66 838.69 L935.69 839.96 L937.73 841.23 L939.80 842.50 L941.88 843.77 L943.98 845.05 L946.10 846.32 L948.24 847.59 L950.39 848.86 L952.57 850.13 L954.76 851.40 L956.97 852.67 L959.20 853.94 L961.44 855.21 L963.70 856.48 L965.98 857.75 L968.28 859.02 L970.58 860.29 L972.91 861.56 L975.25 862.83 L977.60 864.10 L979.97 865.37 L982.35 866.65 L984.74 867.92 L987.15 869.19 L989.56 870.46 L991.99 871.73 L994.42 873.00 L996.87 874.27 L999.32 875.54 L1001.79 876.81 L1004.25 878.08 L1006.73 879.35 L1009.21 880.62 L1011.69 881.89 L1014.18 883.16 L1016.66 884.43 L1019.15 885.70 L1021.64 886.97 L1024.13 888.25 L1026.61 889.52 L1029.10 890.79 L1031.57 892.06 L1034.04 893.33 L1036.50 894.60 L1038.95 895.87 L1041.40 897.14 L1043.83 898.41 L1046.24 899.68 L1048.65 900.95 L1051.03 902.22 L1053.40 903.49 L1055.75 904.76 L1058.07 906.03 L1060.38 907.30 L1062.66 908.58 L1064.91 909.85 L1067.14 911.12 L1069.33 912.39 L1071.50 913.66 L1073.63 914.93 L1075.72 916.20 L1077.78 917.47 L1079.80 918.74 L1081.78 920.01 L1083.72 921.28 L1085.62 922.55 L1087.47 923.82 L1089.27 925.09 L1091.02 926.36 L1092.73 927.63 L1094.38 928.90 L1095.98 930.18 L1097.52 931.45 L1099.00 932.72 L1100.43 933.99 L1101.79 935.26 L1103.10 936.53 L1104.34 937.80 L1105.51 939.07 L1106.62 940.34 L1107.67 941.61 L1108.64 942.88 L1109.55 944.15 L1110.39 945.42 L1111.15 946.69 L1111.85 947.96 L1112.47 949.23 L1113.02 950.50 L1113.49 951.78 L1113.89 953.05 L1114.21 954.32 L1114.46 955.59 L1114.63 956.86 L1114.73 958.13" fill="none" stroke="#231f20" stroke-width="5.5" stroke-linejoin="round" stroke-linecap="square"/>
<rect x="772.1" y="559.2" width="358.3" height="418.4" fill="none" stroke="#231f20" stroke-width="3.4"/>
<line x1="1344" y1="559.2" x2="1344" y2="977.6" stroke="#d5d6d8" stroke-width="3"/>
<line x1="1441.83" y1="559.2" x2="1441.83" y2="977.6" stroke="#d5d6d8" stroke-width="3"/>
<line x1="1539.66" y1="559.2" x2="1539.66" y2="977.6" stroke="#d5d6d8" stroke-width="3"/>
<line x1="1637.49" y1="559.2" x2="1637.49" y2="977.6" stroke="#d5d6d8" stroke-width="3"/>
<line x1="1344" y1="977.6" x2="1344" y2="964.5" stroke="#231f20" stroke-width="2.8"/>
<line x1="1441.83" y1="977.6" x2="1441.83" y2="964.5" stroke="#231f20" stroke-width="2.8"/>
<line x1="1539.66" y1="977.6" x2="1539.66" y2="964.5" stroke="#231f20" stroke-width="2.8"/>
<line x1="1637.49" y1="977.6" x2="1637.49" y2="964.5" stroke="#231f20" stroke-width="2.8"/>
<line x1="1328.1" y1="958.8" x2="1686.7" y2="958.8" stroke="#d5d6d8" stroke-width="3"/>
<line x1="1328.1" y1="884.63" x2="1686.7" y2="884.63" stroke="#d5d6d8" stroke-width="3"/>
<line x1="1328.1" y1="810.46" x2="1686.7" y2="810.46" stroke="#d5d6d8" stroke-width="3"/>
<line x1="1328.1" y1="736.29" x2="1686.7" y2="736.29" stroke="#d5d6d8" stroke-width="3"/>
<line x1="1328.1" y1="662.12" x2="1686.7" y2="662.12" stroke="#d5d6d8" stroke-width="3"/>
<line x1="1328.1" y1="958.8" x2="1341.2" y2="958.8" stroke="#231f20" stroke-width="2.8"/>
<line x1="1328.1" y1="884.63" x2="1341.2" y2="884.63" stroke="#231f20" stroke-width="2.8"/>
<line x1="1328.1" y1="810.46" x2="1341.2" y2="810.46" stroke="#231f20" stroke-width="2.8"/>
<line x1="1328.1" y1="736.29" x2="1341.2" y2="736.29" stroke="#231f20" stroke-width="2.8"/>
<line x1="1328.1" y1="662.12" x2="1341.2" y2="662.12" stroke="#231f20" stroke-width="2.8"/>
<path d="M1344.05 958.80 L1345.69 958.75 L1347.33 958.65 L1348.96 958.50 L1350.60 958.30 L1352.24 958.07 L1353.88 957.81 L1355.51 957.51 L1357.15 957.19 L1358.79 956.83 L1360.43 956.44 L1362.07 956.03 L1363.70 955.59 L1365.34 955.12 L1366.98 954.62 L1368.62 954.10 L1370.26 953.56 L1371.89 952.99 L1373.53 952.40 L1375.17 951.78 L1376.81 951.14 L1378.44 950.48 L1380.08 949.79 L1381.72 949.09 L1383.36 948.36 L1385.00 947.61 L1386.63 946.84 L1388.27 946.04 L1389.91 945.23 L1391.55 944.40 L1393.19 943.54 L1394.82 942.67 L1396.46 941.77 L1398.10 940.86 L1399.74 939.92 L1401.37 938.97 L1403.01 938.00 L1404.65 937.01 L1406.29 936.00 L1407.93 934.97 L1409.56 933.92 L1411.20 932.85 L1412.84 931.77 L1414.48 930.66 L1416.11 929.54 L1417.75 928.40 L1419.39 927.25 L1421.03 926.07 L1422.67 924.88 L1424.30 923.67 L1425.94 922.44 L1427.58 921.20 L1429.22 919.93 L1430.86 918.65 L1432.49 917.36 L1434.13 916.04 L1435.77 914.71 L1437.41 913.37 L1439.04 912.00 L1440.68 910.63 L1442.32 909.23 L1443.96 907.82 L1445.60 906.39 L1447.23 904.94 L1448.87 903.48 L1450.51 902.00 L1452.15 900.51 L1453.79 899.00 L1455.42 897.47 L1457.06 895.93 L1458.70 894.38 L1460.34 892.80 L1461.97 891.22 L1463.61 889.61 L1465.25 887.99 L1466.89 886.36 L1468.53 884.71 L1470.16 883.05 L1471.80 881.37 L1473.44 879.67 L1475.08 877.96 L1476.71 876.23 L1478.35 874.49 L1479.99 872.74 L1481.63 870.97 L1483.27 869.18 L1484.90 867.38 L1486.54 865.57 L1488.18 863.74 L1489.82 861.90 L1491.46 860.04 L1493.09 858.17 L1494.73 856.28 L1496.37 854.38 L1498.01 852.46 L1499.64 850.53 L1501.28 848.59 L1502.92 846.63 L1504.56 844.65 L1506.20 842.67 L1507.83 840.67 L1509.47 838.65 L1511.11 836.62 L1512.75 834.58 L1514.39 832.52 L1516.02 830.45 L1517.66 828.37 L1519.30 826.27 L1520.94 824.15 L1522.57 822.03 L1524.21 819.89 L1525.85 817.73 L1527.49 815.57 L1529.13 813.39 L1530.76 811.19 L1532.40 808.98 L1534.04 806.76 L1535.68 804.53 L1537.32 802.28 L1538.95 800.02 L1540.59 797.74 L1542.23 795.45 L1543.87 793.15 L1545.50 790.84 L1547.14 788.51 L1548.78 786.17 L1550.42 783.81 L1552.06 781.45 L1553.69 779.07 L1555.33 776.67 L1556.97 774.27 L1558.61 771.85 L1560.24 769.41 L1561.88 766.97 L1563.52 764.51 L1565.16 762.04 L1566.80 759.55 L1568.43 757.06 L1570.07 754.55 L1571.71 752.02 L1573.35 749.49 L1574.99 746.94 L1576.62 744.38 L1578.26 741.81 L1579.90 739.22 L1581.54 736.62 L1583.17 734.01 L1584.81 731.39 L1586.45 728.75 L1588.09 726.10 L1589.73 723.44 L1591.36 720.77 L1593.00 718.08 L1594.64 715.38 L1596.28 712.67 L1597.92 709.95 L1599.55 707.22 L1601.19 704.47 L1602.83 701.71 L1604.47 698.93 L1606.10 696.15 L1607.74 693.35 L1609.38 690.54 L1611.02 687.72 L1612.66 684.89 L1614.29 682.04 L1615.93 679.19 L1617.57 676.32 L1619.21 673.44 L1620.84 670.54 L1622.48 667.64 L1624.12 664.72 L1625.76 661.79 L1627.40 658.85 L1629.03 655.89 L1630.67 652.93 L1632.31 649.95 L1633.95 646.96 L1635.59 643.96 L1637.22 640.95 L1638.86 637.92 L1640.50 634.89 L1642.14 631.84 L1643.77 628.78 L1645.41 625.71 L1647.05 622.63 L1648.69 619.53 L1650.33 616.42 L1651.96 613.31 L1653.60 610.18 L1655.24 607.03 L1656.88 603.88 L1658.52 600.72 L1660.15 597.54 L1661.79 594.35 L1663.43 591.15 L1665.07 587.94 L1666.70 584.72 L1668.34 581.49 L1669.98 578.24" fill="none" stroke="#231f20" stroke-width="5.5" stroke-linejoin="round" stroke-linecap="square"/>
<rect x="1328.1" y="559.2" width="358.6" height="418.4" fill="none" stroke="#231f20" stroke-width="3.4"/>
</g>
<g fill="#231f20">
<text class="s" transform="translate(294.27 34) scale(0.9328 1.0000)" font-size="46">Frequency</text>
<text class="s" transform="translate(802.85 34.1) scale(0.9377 1.0000)" font-size="46">Emission</text>
<text class="s" transform="translate(995.07 34.1) scale(0.9383 1.0000)" font-size="46">angle</text>
<text class="s" transform="translate(1445.63 34) scale(0.9171 1.0000)" font-size="46">Range</text>
<text class="s" transform="translate(256 127.99) scale(0.9366 1.0536)" font-size="38.5">10</text>
<text class="s" transform="translate(311.46 128) scale(1.0851 1.0691)" font-size="38.5">M</text>
<text class="s" transform="translate(346.98 128.04) scale(0.8585 0.9351)" font-size="38.5">e</text>
<text class="s" transform="translate(366.3 128) scale(0.9999 1.0691)" font-size="38.5">V</text>
<text class="r" transform="translate(394.8 137.88) scale(1.3941 1.4853)" font-size="41.5" stroke="#fff" stroke-width="0.7" vector-effect="non-scaling-stroke">/</text>
<text class="s" transform="translate(414.22 128.04) scale(0.9000 0.9331)" font-size="38.5">u</text>
<text class="s" transform="translate(256.28 630) scale(0.8568 1.0615)" font-size="38.5">1</text>
<text class="s" transform="translate(290.78 630.08) scale(0.8922 1.0792)" font-size="38.5">G</text>
<text class="s" transform="translate(316.76 630.04) scale(0.8694 0.9351)" font-size="38.5">e</text>
<text class="s" transform="translate(335.6 630) scale(1.0507 1.0691)" font-size="38.5">V</text>
<text class="r" transform="translate(365.6 639.89) scale(1.3468 1.4817)" font-size="41.5" stroke="#fff" stroke-width="0.7" vector-effect="non-scaling-stroke">/</text>
<text class="s" transform="translate(384.81 630.04) scale(0.9061 0.9331)" font-size="38.5">u</text>
<text class="s" transform="translate(811.9 127.99) scale(0.9366 1.0536)" font-size="38.5">10</text>
<text class="s" transform="translate(867.36 128) scale(1.0851 1.0691)" font-size="38.5">M</text>
<text class="s" transform="translate(902.88 128.04) scale(0.8585 0.9351)" font-size="38.5">e</text>
<text class="s" transform="translate(922.2 128) scale(0.9999 1.0691)" font-size="38.5">V</text>
<text class="r" transform="translate(950.7 137.88) scale(1.3941 1.4853)" font-size="41.5" stroke="#fff" stroke-width="0.7" vector-effect="non-scaling-stroke">/</text>
<text class="s" transform="translate(970.12 128.04) scale(0.9000 0.9331)" font-size="38.5">u</text>
<text class="s" transform="translate(812.18 630) scale(0.8568 1.0615)" font-size="38.5">1</text>
<text class="s" transform="translate(846.68 630.08) scale(0.8922 1.0792)" font-size="38.5">G</text>
<text class="s" transform="translate(872.66 630.04) scale(0.8694 0.9351)" font-size="38.5">e</text>
<text class="s" transform="translate(891.5 630) scale(1.0507 1.0691)" font-size="38.5">V</text>
<text class="r" transform="translate(921.5 639.89) scale(1.3468 1.4817)" font-size="41.5" stroke="#fff" stroke-width="0.7" vector-effect="non-scaling-stroke">/</text>
<text class="s" transform="translate(940.71 630.04) scale(0.9061 0.9331)" font-size="38.5">u</text>
<text class="s" transform="translate(1367.9 127.99) scale(0.9366 1.0536)" font-size="38.5">10</text>
<text class="s" transform="translate(1423.36 128) scale(1.0851 1.0691)" font-size="38.5">M</text>
<text class="s" transform="translate(1458.88 128.04) scale(0.8585 0.9351)" font-size="38.5">e</text>
<text class="s" transform="translate(1478.2 128) scale(0.9999 1.0691)" font-size="38.5">V</text>
<text class="r" transform="translate(1506.7 137.88) scale(1.3941 1.4853)" font-size="41.5" stroke="#fff" stroke-width="0.7" vector-effect="non-scaling-stroke">/</text>
<text class="s" transform="translate(1526.12 128.04) scale(0.9000 0.9331)" font-size="38.5">u</text>
<text class="s" transform="translate(1368.18 630) scale(0.8568 1.0615)" font-size="38.5">1</text>
<text class="s" transform="translate(1402.68 630.08) scale(0.8922 1.0792)" font-size="38.5">G</text>
<text class="s" transform="translate(1428.66 630.04) scale(0.8694 0.9351)" font-size="38.5">e</text>
<text class="s" transform="translate(1447.5 630) scale(1.0507 1.0691)" font-size="38.5">V</text>
<text class="r" transform="translate(1477.5 639.89) scale(1.3468 1.4817)" font-size="41.5" stroke="#fff" stroke-width="0.7" vector-effect="non-scaling-stroke">/</text>
<text class="s" transform="translate(1496.71 630.04) scale(0.9061 0.9331)" font-size="38.5">u</text>
<text class="s" transform="translate(255.7 433.6) scale(0.7792 1.0000)" font-size="38.5">a</text>
<text class="s" transform="translate(812.46 433.6) scale(0.9705 1.0000)" font-size="38.5">b</text>
<text class="s" transform="translate(1643.53 433.6) scale(0.9554 1.0000)" font-size="38.5">c</text>
<text class="s" transform="translate(255.42 935.7) scale(0.9619 1.0000)" font-size="38.5">d</text>
<text class="s" transform="translate(811.44 935.7) scale(0.8804 1.0000)" font-size="38.5">e</text>
<text class="s" transform="translate(1643.8 935.4) scale(1.2891 1.0283)" font-size="38.5" stroke="#fff" stroke-width="0.9" vector-effect="non-scaling-stroke">f</text>
<text class="r" transform="translate(220.03 518) scale(1.0479 1.0000)" font-size="41.5">0</text>
<text class="r" transform="translate(358.74 518) scale(0.9940 1.0000)" font-size="41.5">10</text>
<text class="r" transform="translate(508.8 518) scale(0.9925 1.0000)" font-size="41.5">20</text>
<text class="r" transform="translate(777.13 518) scale(1.0479 1.0000)" font-size="41.5">0</text>
<text class="r" transform="translate(915.09 518) scale(0.9940 1.0000)" font-size="41.5">10</text>
<text class="r" transform="translate(1064.4 518) scale(0.9925 1.0000)" font-size="41.5">20</text>
<text class="r" transform="translate(1332.03 518) scale(1.0479 1.0000)" font-size="41.5">0</text>
<text class="r" transform="translate(1470.54 518) scale(0.9940 1.0000)" font-size="41.5">10</text>
<text class="r" transform="translate(1620.4 518) scale(0.9925 1.0000)" font-size="41.5">20</text>
<text class="s" transform="translate(222.02 1019.6) scale(0.9253 1.0000)" font-size="41">0</text>
<text class="s" transform="translate(385.67 1019.6) scale(0.9147 1.0000)" font-size="41">2000</text>
<text class="s" transform="translate(778.17 1019.6) scale(0.9253 1.0000)" font-size="41">0</text>
<text class="s" transform="translate(941.42 1019.6) scale(0.9147 1.0000)" font-size="41">2000</text>
<text class="s" transform="translate(1333.77 1019.6) scale(0.9253 1.0000)" font-size="41">0</text>
<text class="s" transform="translate(1497.48 1019.6) scale(0.9147 1.0000)" font-size="41">2000</text>
<text class="r" x="187.44" y="129.75" font-size="29">1</text>
<text class="r" transform="translate(144.8 144.75) scale(1.0214 1.0000)" font-size="41.5">10</text>
<text class="r" x="187.52" y="210.5" font-size="29">0</text>
<text class="r" transform="translate(144.8 225.5) scale(1.0214 1.0000)" font-size="41.5">10</text>
<text class="r" x="187.44" y="291.25" font-size="29">1</text>
<text class="r" transform="translate(161.81 293.35) scale(1.4446 1.0000)" font-size="29">−</text>
<text class="r" transform="translate(119 306.25) scale(1.0214 1.0000)" font-size="41.5">10</text>
<text class="r" x="188.09" y="372" font-size="29">2</text>
<text class="r" transform="translate(161.81 374.1) scale(1.4446 1.0000)" font-size="29">−</text>
<text class="r" transform="translate(119 387) scale(1.0214 1.0000)" font-size="41.5">10</text>
<text class="r" x="187.51" y="452.75" font-size="29">3</text>
<text class="r" transform="translate(161.81 454.85) scale(1.4446 1.0000)" font-size="29">−</text>
<text class="r" transform="translate(119 467.75) scale(1.0214 1.0000)" font-size="41.5">10</text>
<text class="r" x="187.52" y="583.2" font-size="29">0</text>
<text class="r" transform="translate(144.8 598.2) scale(1.0214 1.0000)" font-size="41.5">10</text>
<text class="r" x="188.09" y="666.54" font-size="29">2</text>
<text class="r" transform="translate(161.81 668.64) scale(1.4446 1.0000)" font-size="29">−</text>
<text class="r" transform="translate(119 681.54) scale(1.0214 1.0000)" font-size="41.5">10</text>
<text class="r" x="186.94" y="749.88" font-size="29">4</text>
<text class="r" transform="translate(161.81 751.98) scale(1.4446 1.0000)" font-size="29">−</text>
<text class="r" transform="translate(119 764.88) scale(1.0214 1.0000)" font-size="41.5">10</text>
<text class="r" x="187.22" y="833.22" font-size="29">6</text>
<text class="r" transform="translate(161.81 835.32) scale(1.4446 1.0000)" font-size="29">−</text>
<text class="r" transform="translate(119 848.22) scale(1.0214 1.0000)" font-size="41.5">10</text>
<text class="r" x="187.52" y="916.56" font-size="29">8</text>
<text class="r" transform="translate(161.81 918.66) scale(1.4446 1.0000)" font-size="29">−</text>
<text class="r" transform="translate(119 931.56) scale(1.0214 1.0000)" font-size="41.5">10</text>
<text class="r" transform="translate(708.28 483.4) scale(0.9761 1.0000)" font-size="41.5">0.0</text>
<text class="r" transform="translate(708.28 974.1) scale(0.9761 1.0000)" font-size="41.5">0.0</text>
<text class="r" transform="translate(708.28 356.6) scale(0.9761 1.0000)" font-size="41.5">0.5</text>
<text class="r" transform="translate(708.28 852.6) scale(0.9761 1.0000)" font-size="41.5">0.5</text>
<text class="r" transform="translate(706.1 229.8) scale(1.0193 1.0000)" font-size="41.5">1.0</text>
<text class="r" transform="translate(706.1 731.1) scale(1.0193 1.0000)" font-size="41.5">1.0</text>
<text class="r" transform="translate(706.1 103) scale(1.0193 1.0000)" font-size="41.5">1.5</text>
<text class="r" transform="translate(706.1 609.6) scale(1.0193 1.0000)" font-size="41.5">1.5</text>
<text class="r" transform="translate(1262.74 471.05) scale(1.0027 1.0000)" font-size="41.5">0.0</text>
<text class="r" transform="translate(1262.53 376.61) scale(1.0069 1.0000)" font-size="41.5">2.5</text>
<text class="r" transform="translate(1261.87 282.18) scale(1.0199 1.0000)" font-size="41.5">5.0</text>
<text class="r" transform="translate(1261.42 187.74) scale(1.0288 1.0000)" font-size="41.5">7.5</text>
<text class="r" transform="translate(1241.44 93.3) scale(1.0097 1.0000)" font-size="41.5">10.0</text>
<text class="r" transform="translate(1292.78 973.8) scale(1.0479 1.0000)" font-size="41.5">0</text>
<text class="r" transform="translate(1299.54 810.26) scale(1.0565 1.0000)" font-size="29">4</text>
<text class="r" transform="translate(1255.58 825.26) scale(1.0843 1.0000)" font-size="41.5">10</text>
<text class="r" transform="translate(1235.84 829.96) scale(0.8867 1.0000)" font-size="41.5">·</text>
<text class="r" transform="translate(1205.59 825.26) scale(1.0888 1.0000)" font-size="41.5">2</text>
<text class="r" transform="translate(1299.54 661.92) scale(1.0565 1.0000)" font-size="29">4</text>
<text class="r" transform="translate(1255.58 676.92) scale(1.0843 1.0000)" font-size="41.5">10</text>
<text class="r" transform="translate(1235.84 681.62) scale(0.8867 1.0000)" font-size="41.5">·</text>
<text class="r" transform="translate(1206.82 676.92) scale(0.9382 1.0000)" font-size="41.5">4</text>
<text class="s" transform="translate(182.43 1069.7) scale(0.9963 1.0000)" font-size="38.5">Electron</text>
<text class="s" transform="translate(337.05 1069.7) scale(0.9434 1.0000)" font-size="38.5">energy</text>
<text class="s" transform="translate(463.7 1069.7) scale(1.1666 1.0000)" font-size="38.5">T</text>
<text class="r" transform="translate(491.98 1075.91) scale(1.0986 0.9962)" font-size="29">0</text>
<text class="r" transform="translate(524.8 1081.36) scale(1.4544 1.5537)" font-size="41.5" stroke="#fff" stroke-width="0.7" vector-effect="non-scaling-stroke">/</text>
<text class="s" transform="translate(545.33 1069.7) scale(0.9488 1.0000)" font-size="38.5">keV</text>
<text class="s" transform="translate(738.13 1069.7) scale(0.9963 1.0000)" font-size="38.5">Electron</text>
<text class="s" transform="translate(892.75 1069.7) scale(0.9434 1.0000)" font-size="38.5">energy</text>
<text class="s" transform="translate(1019.4 1069.7) scale(1.1666 1.0000)" font-size="38.5">T</text>
<text class="r" transform="translate(1047.68 1075.91) scale(1.0986 0.9962)" font-size="29">0</text>
<text class="r" transform="translate(1080.5 1081.36) scale(1.4544 1.5537)" font-size="41.5" stroke="#fff" stroke-width="0.7" vector-effect="non-scaling-stroke">/</text>
<text class="s" transform="translate(1101.03 1069.7) scale(0.9488 1.0000)" font-size="38.5">keV</text>
<text class="s" transform="translate(1294.13 1069.7) scale(0.9963 1.0000)" font-size="38.5">Electron</text>
<text class="s" transform="translate(1448.75 1069.7) scale(0.9434 1.0000)" font-size="38.5">energy</text>
<text class="s" transform="translate(1575.4 1069.7) scale(1.1666 1.0000)" font-size="38.5">T</text>
<text class="r" transform="translate(1603.68 1075.91) scale(1.0986 0.9962)" font-size="29">0</text>
<text class="r" transform="translate(1636.5 1081.36) scale(1.4544 1.5537)" font-size="41.5" stroke="#fff" stroke-width="0.7" vector-effect="non-scaling-stroke">/</text>
<text class="s" transform="translate(1657.03 1069.7) scale(0.9488 1.0000)" font-size="38.5">keV</text>
<g transform="translate(34.6 418.3) rotate(-90)">
<text class="r" transform="translate(-1.6 0) scale(1.1015 1.0000)" font-size="41.5">d</text>
<text class="r" transform="translate(22.03 -15.85) scale(1.0983 1.0000)" font-size="29">2</text>
<text class="r" transform="translate(42.08 0) scale(1.1633 1.0000)" font-size="41.5" font-style="italic" stroke="#fff" stroke-width="0.5" vector-effect="non-scaling-stroke">N</text>
<text class="r" transform="translate(75.7 9.39) scale(1.4716 1.4746)" font-size="41.5" stroke="#fff" stroke-width="0.7" vector-effect="non-scaling-stroke">/</text>
<text class="r" transform="translate(94.2 0) scale(1.1015 1.0000)" font-size="41.5">d</text>
<text class="r" transform="translate(115.02 0) scale(1.2157 1.0000)" font-size="41.5" font-style="italic" stroke="#fff" stroke-width="0.5" vector-effect="non-scaling-stroke">T</text>
<text class="r" transform="translate(142.14 6.6) scale(1.1387 1.0000)" font-size="29">0</text>
<text class="r" transform="translate(162.7 9.39) scale(1.2909 1.4746)" font-size="41.5" stroke="#fff" stroke-width="0.7" vector-effect="non-scaling-stroke">/</text>
<text class="r" transform="translate(181.12 0) scale(0.9480 1.0000)" font-size="41.5">d</text>
<text class="r" transform="translate(206.45 0) scale(1.0432 1.0000)" font-size="41.5" font-style="italic" stroke="#fff" stroke-width="0.5" vector-effect="non-scaling-stroke">z</text>
<text class="r" transform="translate(227.9 9.39) scale(1.2909 1.4746)" font-size="41.5" stroke="#fff" stroke-width="0.7" vector-effect="non-scaling-stroke">/</text>
<text class="r" transform="translate(245.38 0) scale(1.0116 1.0000)" font-size="41.5" font-style="italic" stroke="#fff" stroke-width="0.5" vector-effect="non-scaling-stroke">Z</text>
<text class="r" transform="translate(273.69 -15.85) scale(1.1324 1.0000)" font-size="29">2</text>
<text class="r" transform="translate(271.39 11.2) scale(1.0975 1.0000)" font-size="29">eff</text>
</g>
<g transform="translate(94.2 418.3) rotate(-90)">
<text class="r" transform="translate(32.9 9.59) scale(1.3597 1.4817)" font-size="41.5" stroke="#fff" stroke-width="0.7" vector-effect="non-scaling-stroke">/</text>
<text class="s" transform="translate(51.68 1.37) scale(1.0486 1.1667)" font-size="38.5">(</text>
<text class="s" transform="translate(69.25 0) scale(1.0188 1.0000)" font-size="38.5">µm</text>
<text class="s" transform="translate(125.26 0) scale(0.9351 1.0000)" font-size="38.5">·</text>
<text class="s" transform="translate(152.2 0) scale(0.9410 1.0000)" font-size="38.5">keV</text>
<text class="s" transform="translate(217.3 1.37) scale(1.0390 1.1667)" font-size="38.5">)</text>
<text class="r" transform="translate(233.19 -12.5) scale(1.3866 1.0000)" font-size="29">−</text>
<text class="r" transform="translate(258.41 -14.6) scale(0.9713 1.0000)" font-size="29">1</text>
</g>
<g transform="translate(34.6 920.1) rotate(-90)">
<text class="r" transform="translate(-1.6 0) scale(1.1015 1.0000)" font-size="41.5">d</text>
<text class="r" transform="translate(22.03 -15.85) scale(1.0983 1.0000)" font-size="29">2</text>
<text class="r" transform="translate(42.08 0) scale(1.1633 1.0000)" font-size="41.5" font-style="italic" stroke="#fff" stroke-width="0.5" vector-effect="non-scaling-stroke">N</text>
<text class="r" transform="translate(75.7 9.39) scale(1.4716 1.4746)" font-size="41.5" stroke="#fff" stroke-width="0.7" vector-effect="non-scaling-stroke">/</text>
<text class="r" transform="translate(94.2 0) scale(1.1015 1.0000)" font-size="41.5">d</text>
<text class="r" transform="translate(115.02 0) scale(1.2157 1.0000)" font-size="41.5" font-style="italic" stroke="#fff" stroke-width="0.5" vector-effect="non-scaling-stroke">T</text>
<text class="r" transform="translate(142.14 6.6) scale(1.1387 1.0000)" font-size="29">0</text>
<text class="r" transform="translate(162.7 9.39) scale(1.2909 1.4746)" font-size="41.5" stroke="#fff" stroke-width="0.7" vector-effect="non-scaling-stroke">/</text>
<text class="r" transform="translate(181.12 0) scale(0.9480 1.0000)" font-size="41.5">d</text>
<text class="r" transform="translate(206.45 0) scale(1.0432 1.0000)" font-size="41.5" font-style="italic" stroke="#fff" stroke-width="0.5" vector-effect="non-scaling-stroke">z</text>
<text class="r" transform="translate(227.9 9.39) scale(1.2909 1.4746)" font-size="41.5" stroke="#fff" stroke-width="0.7" vector-effect="non-scaling-stroke">/</text>
<text class="r" transform="translate(245.38 0) scale(1.0116 1.0000)" font-size="41.5" font-style="italic" stroke="#fff" stroke-width="0.5" vector-effect="non-scaling-stroke">Z</text>
<text class="r" transform="translate(273.69 -15.85) scale(1.1324 1.0000)" font-size="29">2</text>
<text class="r" transform="translate(271.39 11.2) scale(1.0975 1.0000)" font-size="29">eff</text>
</g>
<g transform="translate(94.2 920.1) rotate(-90)">
<text class="r" transform="translate(32.9 9.59) scale(1.3597 1.4817)" font-size="41.5" stroke="#fff" stroke-width="0.7" vector-effect="non-scaling-stroke">/</text>
<text class="s" transform="translate(51.68 1.37) scale(1.0486 1.1667)" font-size="38.5">(</text>
<text class="s" transform="translate(69.25 0) scale(1.0188 1.0000)" font-size="38.5">µm</text>
<text class="s" transform="translate(125.26 0) scale(0.9351 1.0000)" font-size="38.5">·</text>
<text class="s" transform="translate(152.2 0) scale(0.9410 1.0000)" font-size="38.5">keV</text>
<text class="s" transform="translate(217.3 1.37) scale(1.0390 1.1667)" font-size="38.5">)</text>
<text class="r" transform="translate(233.19 -12.5) scale(1.3866 1.0000)" font-size="29">−</text>
<text class="r" transform="translate(258.41 -14.6) scale(0.9713 1.0000)" font-size="29">1</text>
</g>
<g transform="translate(681.5 324.7) rotate(-90)">
<text class="r" transform="translate(-1.72 0.14) scale(1.0386 1.1005)" font-size="41.5">Θ</text>
<text class="r" transform="translate(45.8 8.98) scale(1.3769 1.4997)" font-size="41.5" stroke="#fff" stroke-width="0.7" vector-effect="non-scaling-stroke">/</text>
<text class="s" transform="translate(64.9 0) scale(0.9579 1.0000)" font-size="38.5">rad</text>
</g>
<g transform="translate(681.5 826.7) rotate(-90)">
<text class="r" transform="translate(-1.72 0.14) scale(1.0386 1.1005)" font-size="41.5">Θ</text>
<text class="r" transform="translate(45.8 8.98) scale(1.3769 1.4997)" font-size="41.5" stroke="#fff" stroke-width="0.7" vector-effect="non-scaling-stroke">/</text>
<text class="s" transform="translate(64.9 0) scale(0.9579 1.0000)" font-size="38.5">rad</text>
</g>
<g transform="translate(1216.2 326.8) rotate(-90)">
<text class="r" transform="translate(0.49 0) scale(1.1909 1.0000)" font-size="41.5" font-style="italic" stroke="#fff" stroke-width="0.5" vector-effect="non-scaling-stroke">R</text>
<text class="r" transform="translate(46.5 9.19) scale(1.3167 1.4746)" font-size="41.5" stroke="#fff" stroke-width="0.7" vector-effect="non-scaling-stroke">/</text>
<text class="s" transform="translate(66.2 0) scale(1.0400 1.0000)" font-size="38.5">µm</text>
</g>
<g transform="translate(1182 827.8) rotate(-90)">
<text class="r" transform="translate(0.49 0) scale(1.1909 1.0000)" font-size="41.5" font-style="italic" stroke="#fff" stroke-width="0.5" vector-effect="non-scaling-stroke">R</text>
<text class="r" transform="translate(46.5 9.19) scale(1.3167 1.4746)" font-size="41.5" stroke="#fff" stroke-width="0.7" vector-effect="non-scaling-stroke">/</text>
<text class="s" transform="translate(66.2 0) scale(1.0400 1.0000)" font-size="38.5">µm</text>
</g>
</g>
</svg>
</body>
</html>
